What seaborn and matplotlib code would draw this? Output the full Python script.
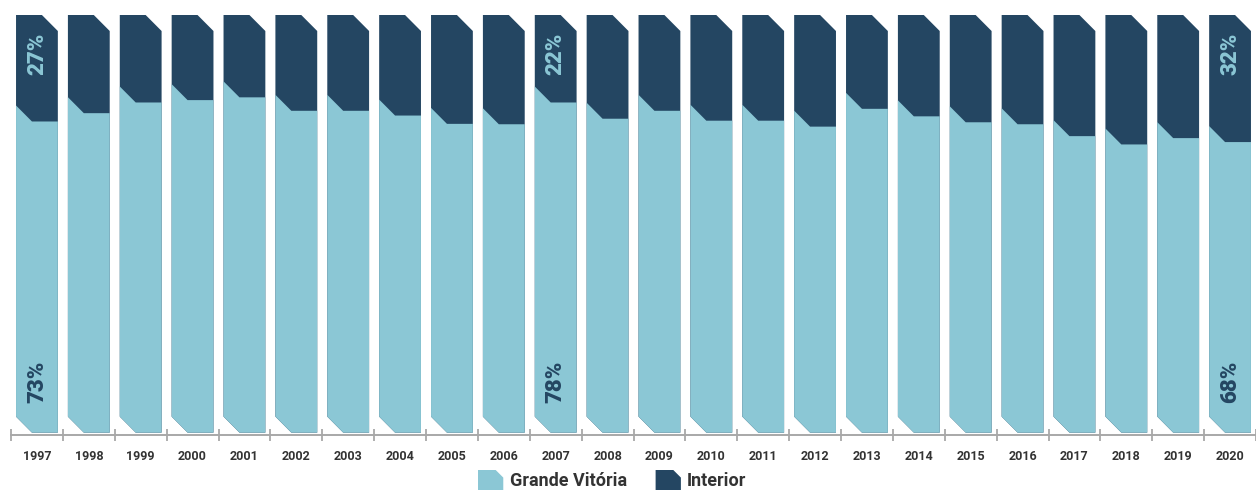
import matplotlib
matplotlib.use("Agg")
import matplotlib.pyplot as plt
from matplotlib.patches import Polygon, Patch
from matplotlib.legend_handler import HandlerBase
import seaborn as sns
import numpy as np

# --- dados (percentual da Grande Vitória; Interior = 100 - GV) ---
anos = [str(a) for a in range(1997, 2021)]
grande_vitoria = [73.1, 75.2, 77.9, 78.5, 79.2, 75.8, 75.8, 74.6, 72.5, 72.4,
                  77.9, 73.8, 75.8, 73.3, 73.3, 71.8, 76.3, 74.4, 72.9, 72.4,
                  69.4, 67.3, 68.9, 67.9]
interior = [100 - v for v in grande_vitoria]
anos_rotulados = ["1997", "2007", "2020"]

cor_gv = "#8BC7D5"
cor_int = "#244662"
cor_texto = "#333333"
cor_eixo = "#A8A8A8"

sns.set_theme(style="white")
plt.rcParams["font.family"] = ["Roboto", "DejaVu Sans"]

fig = plt.figure(figsize=(12.56, 4.9), dpi=100)
ax = fig.add_axes([11 / 1256, 55 / 490, 1245 / 1256, 420 / 490])

base = -5.5  # as barras descem um pouco abaixo do zero
chanfro_px = 16

# barras cheias (Interior ao fundo) e Grande Vitória por cima
sns.barplot(x=anos, y=[100] * len(anos), color=cor_int, width=0.806,
            saturation=1, ax=ax)
sns.barplot(x=anos, y=grande_vitoria, color=cor_gv, width=0.806,
            saturation=1, ax=ax)

ax.set_xlim(-0.5, 23.38)
ax.set_ylim(-6.1, 100)

# tamanho do chanfro em unidades de dados
p0 = ax.transData.transform((0, 0))
p1 = ax.transData.transform((1, 1))
cx = chanfro_px / (p1[0] - p0[0])
cy = chanfro_px / (p1[1] - p0[1])

retangulos = list(ax.patches)
n = len(anos)
for k, r in enumerate(retangulos):
    x0 = r.get_x()
    x1 = x0 + r.get_width()
    h = r.get_height()
    if k < n:
        # Interior: canto superior direito chanfrado
        pts = [(x0, base + cy), (x0 + cx, base), (x1, base),
               (x1, h - cy), (x1 - cx, h), (x0, h)]
        cor = cor_int
    else:
        # Grande Vitória: chanfro embaixo e na divisa
        pts = [(x0, base + cy), (x0 + cx, base), (x1, base),
               (x1, h), (x0 + cx, h), (x0, h + cy)]
        cor = cor_gv
    r.remove()
    ax.add_patch(Polygon(pts, closed=True, facecolor=cor, edgecolor="none",
                         clip_on=False, zorder=2 + (k >= n)))

# rótulos de percentual
for ano in anos_rotulados:
    i = anos.index(ano)
    ax.annotate(f"{interior[i]:.0f}%", xy=(i, 100), xytext=(0, -18),
                textcoords="offset pixels", rotation=90, ha="center",
                va="top", fontsize=16, fontweight="heavy", color=cor_gv,
                zorder=5)
    ax.annotate(f"{grande_vitoria[i]:.0f}%", xy=(i, base), xytext=(0, 30),
                textcoords="offset pixels", rotation=90, ha="center",
                va="bottom", fontsize=16, fontweight="heavy", color=cor_int,
                zorder=5)

# eixos
for lado in ["left", "top", "right"]:
    ax.spines[lado].set_visible(False)
ax.spines["bottom"].set_color(cor_eixo)
ax.spines["bottom"].set_linewidth(1.4)
ax.set_yticks([])
ax.set_xlabel("")
ax.set_ylabel("")
ax.set_xticks(range(n))
ax.set_xticklabels(anos, fontsize=9, fontweight="bold", color=cor_texto)
ax.set_xticks(np.arange(-0.5, n, 1), minor=True)
ax.tick_params(axis="x", which="major", length=0, pad=11)
ax.tick_params(axis="x", which="minor", bottom=True, length=8, width=1.3,
               direction="inout", color=cor_eixo)
ax.set_facecolor("white")


# legenda com marcador chanfrado
class HandlerChanfro(HandlerBase):
    def create_artists(self, legend, orig_handle, xdescent, ydescent,
                       width, height, fontsize, trans):
        c = width * 0.3
        pts = [(-xdescent, -ydescent), (-xdescent + width, -ydescent),
               (-xdescent + width, -ydescent + height - c),
               (-xdescent + width - c, -ydescent + height),
               (-xdescent, -ydescent + height)]
        p = Polygon(pts, closed=True, facecolor=orig_handle.get_facecolor(),
                    edgecolor="none", transform=trans)
        return [p]


handles = [Patch(facecolor=cor_gv, label="Grande Vitória"),
           Patch(facecolor=cor_int, label="Interior")]
leg = fig.legend(handles=handles, loc="upper left",
                 bbox_to_anchor=(478 / 1256, 1 - 470 / 490), ncol=2,
                 frameon=False, borderpad=0, borderaxespad=0,
                 handlelength=1.4, handleheight=1.4, handletextpad=0.35,
                 columnspacing=1.6, prop={"size": 13, "weight": "bold"},
                 handler_map={Patch: HandlerChanfro()})
for t in leg.get_texts():
    t.set_color(cor_texto)

fig.savefig("out.png", dpi=100, facecolor="white")
